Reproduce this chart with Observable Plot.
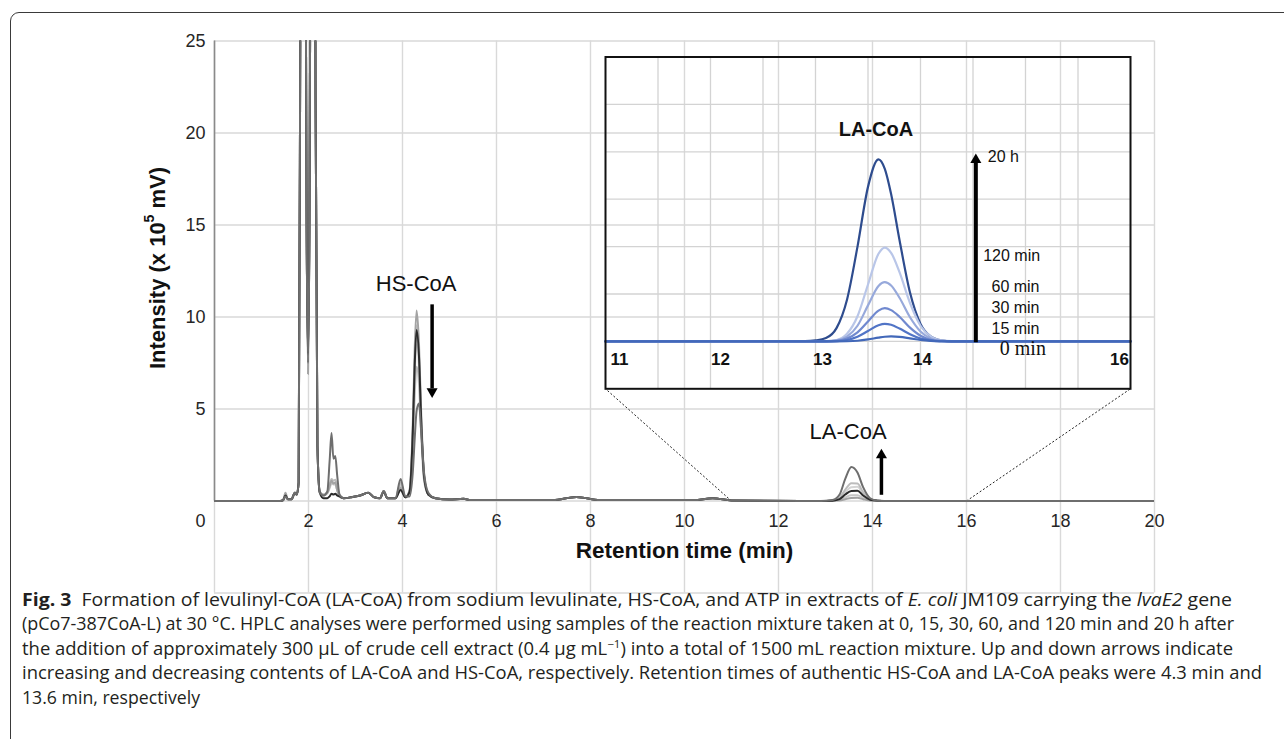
<!DOCTYPE html>
<html><head><meta charset="utf-8">
<script src="https://cdn.jsdelivr.net/npm/d3@7"></script>
<script src="https://cdn.jsdelivr.net/npm/@observablehq/plot@0.6"></script>
<style>
html,body{margin:0;padding:0;background:#fff;}
#wrap{position:relative;width:1284px;height:739px;overflow:hidden;background:#fff;}
#frame{position:absolute;left:10px;top:12px;width:1400px;height:800px;border:1.5px solid #3a3a3a;border-radius:9px;box-sizing:border-box;}
#main,#inset{position:absolute;left:0;top:0;}
#caption{position:absolute;left:22px;top:587px;font-family:"Open Sans",sans-serif;font-size:17.5px;line-height:24.4px;color:#231f20;}
#caption .ln{white-space:nowrap;display:block;width:max-content;transform-origin:0 50%;}
</style></head><body>
<div id="wrap"><div id="frame"></div><div id="main"></div><div id="inset"></div><div id="caption"></div></div>
<script>
// ---------------- DATA ----------------
// main chromatogram: retention time (min) and intensity (x 10^5 mV) of each sample
const retentionTime = [0,1.40,1.46,1.51,1.56,1.64,1.71,1.75,1.79,1.83,
  1.87,1.92,1.96,1.99,2.02,2.06,2.11,2.15,2.19,2.24,
  2.32,2.40,2.45,2.49,2.53,2.57,2.61,2.66,2.75,2.90,
  3.10,3.27,3.40,3.52,3.60,3.68,3.85,3.96,4.06,4.15,
  4.22,4.26,4.30,4.35,4.40,4.46,4.55,4.70,5.00,5.30,
  5.45,6.00,7.20,7.70,8.20,10.20,10.60,11.00,12.90,13.15,
  13.30,13.42,13.55,13.68,13.80,13.95,14.10,14.30,16.00,20.00];
const main0min = [0,0,.05,.45,.1,.1,.45,.35,1.0,30,
  60,45,15,6.9,15,45,60,22,3,.5,
  .35,.45,.8,1.1,.95,1.0,.6,.25,.15,.2,
  .3,.45,.2,.15,.55,.15,.15,.7,.2,.6,
  4.3,8.3,10.35,8.6,4.6,1.4,.35,.15,.08,.12,
  .05,.05,.05,.22,.05,.05,.15,.03,0,.02,
  .03,.1,.16,.17,.1,.03,.02,0,0,0];
const main15min = [0,0,.05,.3,.1,.1,.45,.35,1.0,30,
  60,45,15,7.5,15,45,60,22,3,.5,
  .3,.4,.7,.95,.9,.9,.6,.25,.15,.2,
  .3,.45,.2,.15,.55,.15,.15,.8,.2,.55,
  3.9,7.6,9.55,8.0,4.3,1.3,.35,.15,.08,.12,
  .05,.05,.05,.22,.05,.05,.15,.03,0,.02,
  .06,.2,.31,.31,.17,.04,.02,0,0,0];
const main30min = [0,0,.05,.3,.1,.1,.45,.35,1.0,30,
  60,45,15,8.0,15,45,60,22,3,.45,
  .15,.15,.25,.4,.35,.4,.3,.25,.15,.2,
  .3,.45,.2,.15,.5,.15,.15,.6,.2,.5,
  3.8,7.4,9.3,7.9,4.2,1.3,.35,.15,.08,.12,
  .05,.05,.05,.22,.05,.05,.15,.03,0,.02,
  .1,.35,.55,.56,.3,.07,.02,0,0,0];
const main60min = [0,0,.05,.3,.1,.1,.45,.35,1.0,30,
  60,45,15,8.5,15,45,60,22,3,.5,
  .3,.45,.8,1.0,.95,.95,.6,.25,.15,.2,
  .3,.45,.2,.15,.55,.15,.15,.9,.2,.45,
  3.5,6.8,8.5,7.3,3.9,1.2,.35,.15,.08,.12,
  .05,.05,.05,.22,.05,.05,.15,.03,0,.02,
  .14,.48,.75,.77,.4,.08,.02,0,0,0];
const main120min = [0,0,.05,.3,.1,.1,.45,.35,1.0,30,
  60,45,15,7.8,15,45,60,22,3,.5,
  .3,.5,.9,1.2,1.1,1.15,.7,.25,.15,.2,
  .3,.45,.2,.15,.55,.15,.15,1.0,.2,.4,
  3.0,5.8,7.3,6.4,3.5,1.1,.35,.15,.08,.12,
  .05,.05,.05,.22,.05,.05,.15,.03,0,.02,
  .18,.62,.97,.95,.48,.1,.02,0,0,0];
const main20h = [0,0,.05,.25,.1,.1,.45,.35,1.0,30,
  60,45,15,7.5,15,45,60,22,3,.45,
  .3,.5,2.2,3.7,2.3,2.45,1.4,.35,.15,.2,
  .3,.45,.2,.15,.55,.15,.15,1.2,.25,.25,
  1.6,3.4,4.9,5.3,3.7,1.5,.45,.15,.08,.12,
  .05,.05,.05,.22,.05,.05,.15,.03,0,.05,
  .35,1.2,1.85,1.55,.75,.15,.02,0,0,0];

// inset (LA-CoA region)
const insetTime = [11,12.9,13.0,13.1,13.2,13.3,13.4,13.5,13.6,13.66,13.72,13.8,13.9,14.0,14.1,14.2,14.3,16];
const inset20h   = [0,.005,.02,.07,.28,.88,2.0,3.26,3.84,3.64,3.11,2.14,1.03,.37,.10,.02,0,0];
const inset120min= [0,0,0,.004,.03,.16,.53,1.20,1.85,1.98,1.87,1.46,.81,.33,.10,.02,.004,0];
const inset60min = [0,0,0,.003,.02,.10,.33,.76,1.17,1.25,1.18,.92,.51,.21,.06,.01,0,0];
const inset30min = [0,0,0,0,.01,.06,.19,.42,.65,.70,.66,.52,.29,.12,.035,.008,0,0];
const inset15min = [0,0,0,0,.006,.03,.10,.22,.34,.37,.35,.27,.15,.06,.02,0,0,0];
const inset0min  = [0,0,0,0,0,.003,.014,.041,.079,.098,.105,.095,.064,.031,.011,.003,0,0];

// ticks
const mainXTicks = [2,4,6,8,10,12,14,16,18,20];
const mainXGrid = [0,2,4,6,8,10,12,14,16,18,20];
const mainYTicks = [5,10,15,20,25];
const mainYGrid = [-5,0,5,10,15,20,25];
const insetXTicks = [11,12,13,14,16];
const insetXGrid = [11.5,12,12.5,13,13.5,14,14.5,15,15.5];
const insetYGrid = [0,1,2,3,4,5];
const zoomRange = [11,16];

// annotations (data units)
const hsLabel = {x:4.29, y:11.8, text:"HS-CoA"};
const laLabel = {x:13.48, y:3.74, text:"LA-CoA"};
const hsArrow = {x:4.63, from:10.66, to:5.6};
const laArrow = {x:14.19, from:0.31, to:2.84};
const insetTitle = {x:13.576, y:4.478, text:"LA-CoA"};
const insetArrow = {x:14.527, from:-0.03, to:3.97};
const insetSampleLabels = [
  {x:14.641, y:3.895, text:"20 h"},
  {x:14.597, y:1.804, text:"120 min"},
  {x:14.676, y:1.158, text:"60 min"},
  {x:14.676, y:0.703, text:"30 min"},
  {x:14.676, y:0.267, text:"15 min"}
];
const insetZeroLabel = {x:14.755, y:-0.16, text:"0 min"};

// ---------------- SCALES / LAYOUT ----------------
const W = 1284, H = 600;
const xMain = {domain:[0,20], range:[214,1154]};
const yMain = {domain:[-5,25], range:[592.5,40.5]};
const xIn = {domain:[11,16], range:[605,1130]};
const yIn = {domain:[-1,6], range:[388.3,56.5]};
const sxMain = Plot.scale({x:xMain}), syMain = Plot.scale({y:yMain});
const sxIn = Plot.scale({x:xIn}), syIn = Plot.scale({y:yIn});

const pts = (xs, ys) => xs.map((x,i)=>({x, y:ys[i]}));

const mainSeries = [
  {v:main60min, c:"#d4d4d4"},
  {v:main15min, c:"#c8c8c8"},
  {v:main120min, c:"#bcbcbc"},
  {v:main0min, c:"#a3a3a3"},
  {v:main30min, c:"#2b2b2b"},
  {v:main20h, c:"#6e6e6e"}
];
const insetSeries = [
  {v:inset20h, c:"#2e4c8e"},
  {v:inset120min, c:"#b9c6e8"},
  {v:inset60min, c:"#97a9db"},
  {v:inset30min, c:"#7089cf"},
  {v:inset15min, c:"#5174c6"},
  {v:inset0min, c:"#4268b9"}
];

// connectors from zoomed x-range to inset bottom corners
const connectors = zoomRange.map((t,i)=>({
  x1:t, y1:0,
  x2: sxMain.invert(sxIn.apply(zoomRange[i])),
  y2: syMain.invert(syIn.apply(yIn.domain[0]))
}));

const tri = (a, dir, size) => Plot.dot([a], {x:"x", y: d=>d.to, symbol:"triangle", r:size, rotate: dir>0?0:180,
  fill:"#000", stroke:"none", dy: dir>0? 6.4 : -6.4});

const main = Plot.plot({
  width:W, height:H,
  marginLeft:214, marginRight:130, marginTop:40.5, marginBottom:7.5,
  x:{...xMain, axis:null},
  y:{...yMain, axis:null},
  style:{background:"transparent", fontFamily:"'Liberation Sans', Arial, sans-serif", fontSize:"18px", color:"#262626", overflow:"visible"},
  marks:[
    Plot.ruleX(mainXGrid, {x:d=>d, y1:-5, y2:25, stroke:"#d9d9d9", strokeWidth:1.4}),
    Plot.ruleY(mainYGrid, {y:d=>d, x1:0, x2:20, stroke:"#d9d9d9", strokeWidth:1.4}),
    Plot.ruleX([0], {y1:0, y2:25, stroke:"#8a8a8a", strokeWidth:1.6}),
    Plot.link(connectors, {x1:"x1", y1:"y1", x2:"x2", y2:"y2", stroke:"#222", strokeWidth:1, strokeDasharray:"2,2"}),
    ...mainSeries.map(s=>Plot.line(pts(retentionTime, s.v), {x:"x", y:"y", stroke:s.c, strokeWidth:2, curve:"monotone-x", clip:true})),
    Plot.text(mainYTicks, {x:0, y:d=>d, dx:-9, textAnchor:"end", fill:"#262626"}),
    Plot.text(mainXTicks, {x:d=>d, y:0, dy:20.5, fill:"#262626"}),
    Plot.text([0], {x:d=>d, y:0, dy:20.5, dx:-14, fill:"#262626"}),
    Plot.text(["Retention time (min)"], {frameAnchor:"bottom", dy:-35.5, fontWeight:"bold", fontSize:22.5, fill:"#111"}),
    Plot.text([hsLabel], {x:"x", y:"y", text:"text", fontSize:22, fill:"#111"}),
    Plot.text([laLabel], {x:"x", y:"y", text:"text", fontSize:22, fill:"#111"}),
    Plot.ruleX([hsArrow], {x:"x", y1:"from", y2:d=>d.to+0.5, stroke:"#000", strokeWidth:3.5}),
    tri(hsArrow, -1, 4.1),
    Plot.ruleX([laArrow], {x:"x", y1:"from", y2:d=>d.to-0.5, stroke:"#000", strokeWidth:3.5}),
    tri(laArrow, 1, 4.1)
  ]
});
document.getElementById("main").appendChild(main);

// y-axis title with superscript
const svgMain = d3.select(main);
const yt = svgMain.append("text")
  .attr("transform","translate(157,268) rotate(-90)")
  .attr("text-anchor","middle").attr("dominant-baseline","central")
  .attr("font-family","'Liberation Sans', Arial, sans-serif")
  .attr("font-weight","bold").attr("font-size",22).attr("fill","#111");
yt.append("tspan").text("Intensity (x 10");
yt.append("tspan").attr("dy",-8).attr("font-size",14).text("5");
yt.append("tspan").attr("dy",8).text(" mV)");

const inset = Plot.plot({
  width:W, height:H,
  marginLeft:605, marginRight:154, marginTop:56.5, marginBottom:211.7,
  x:{...xIn, axis:null},
  y:{...yIn, axis:null},
  style:{background:"transparent", fontFamily:"'Liberation Sans', Arial, sans-serif", fontSize:"16px", color:"#111", overflow:"visible"},
  marks:[
    Plot.ruleX(insetXGrid, {x:d=>d, y1:-1, y2:6, stroke:"#d3d3d3", strokeWidth:1.3}),
    Plot.ruleY(insetYGrid, {y:d=>d, x1:11, x2:16, stroke:"#d3d3d3", strokeWidth:1.3}),
    ...insetSeries.map(s=>Plot.line(pts(insetTime, s.v), {x:"x", y:"y", stroke:s.c, strokeWidth:2.2, curve:"monotone-x"})),
    Plot.frame({stroke:"#111", strokeWidth:2}),
    ...insetXTicks.map(t=>Plot.text([t], {x:d=>d, y:0, dy:18.3, fontWeight:"bold", fontSize:17, fill:"#111",
        dx: ({11:14, 12:10, 13:7, 14:2, 16:-11})[t]})),
    Plot.text([insetTitle], {x:"x", y:"y", text:"text", fontWeight:"bold", fontSize:20, fill:"#111"}),
    Plot.ruleX([insetArrow], {x:"x", y1:"from", y2:d=>d.to-0.15, stroke:"#000", strokeWidth:4}),
    Plot.dot([insetArrow], {x:"x", y:d=>d.to, symbol:"triangle", r:4.1, fill:"#000", stroke:"none", dy:6.6}),
    Plot.text(insetSampleLabels, {x:"x", y:"y", text:"text", textAnchor:"start", fontSize:16, fill:"#111"}),
    Plot.text([insetZeroLabel], {x:"x", y:"y", text:"text", textAnchor:"start", fontSize:20, fontFamily:"'Liberation Serif', 'Times New Roman', serif", fill:"#111"})
  ]
});
document.getElementById("inset").appendChild(inset);

// ---------------- CAPTION ----------------
const captionLines = [
  '<b>Fig. 3</b>&nbsp; Formation of levulinyl-CoA (LA-CoA) from sodium levulinate, HS-CoA, and ATP in extracts of <i>E. coli</i> JM109 carrying the <i>lvaE2</i> gene',
  '(pCo7-387CoA-L) at 30 °C. HPLC analyses were performed using samples of the reaction mixture taken at 0, 15, 30, 60, and 120 min and 20 h after',
  'the addition of approximately 300 µL of crude cell extract (0.4 µg mL<sup style="font-size:11px;line-height:0">−1</sup>) into a total of 1500 mL reaction mixture. Up and down arrows indicate',
  'increasing and decreasing contents of LA-CoA and HS-CoA, respectively. Retention times of authentic HS-CoA and LA-CoA peaks were 4.3 min and',
  '13.6 min, respectively'
];
const captionWidths = [1210, 1212, 1211, 1240, 178];
const cap = document.getElementById("caption");
captionLines.forEach((h,i)=>{
  const d = document.createElement("div");
  d.className = "ln"; d.innerHTML = h; cap.appendChild(d);
  const w = d.getBoundingClientRect().width;
  d.style.transform = `scaleX(${captionWidths[i]/w})`;
});
</script>
</body></html>
